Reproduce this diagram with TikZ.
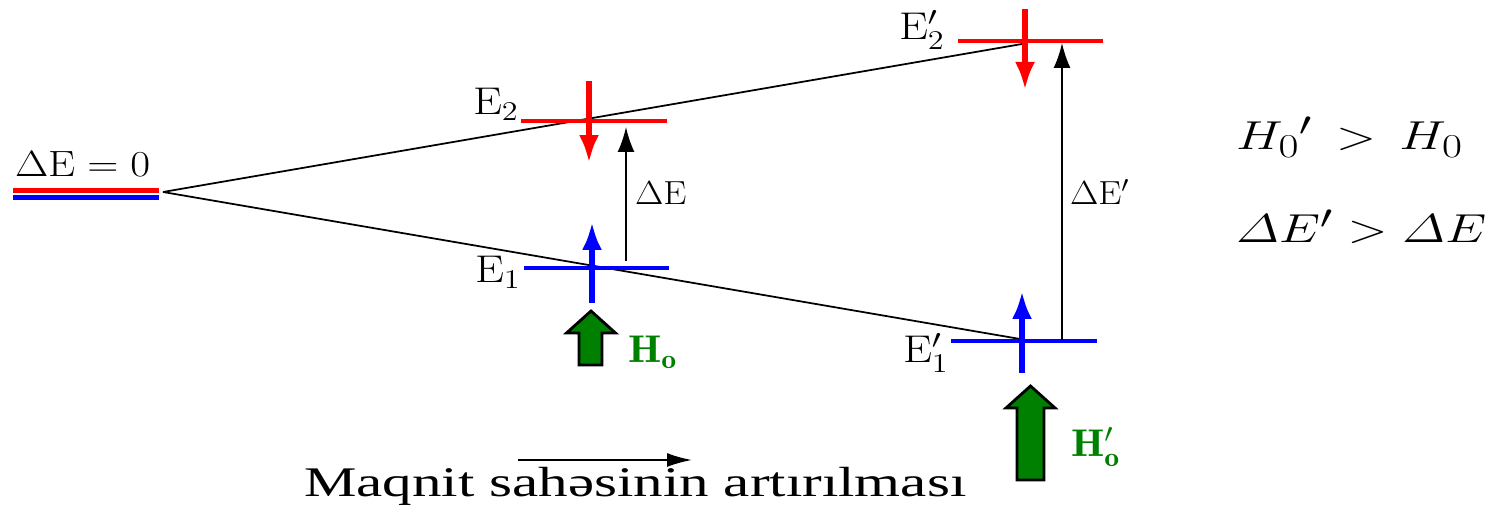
\RequirePackage{fix-cm}
\documentclass[tikz,border=0pt]{standalone}
\usepackage{fontspec}
\newfontfamily\timesfont{Liberation Serif}
\usetikzlibrary{arrows.meta}
\definecolor{hgreen}{RGB}{0,128,0}
\definecolor{lvred}{RGB}{255,0,0}
\definecolor{lvblue}{RGB}{0,0,255}
\DeclareMathSizes{23}{23}{19}{15}
\begin{document}
\begin{tikzpicture}[x=0.02cm,y=-0.02cm,
  lvl/.style={line width=0.085cm},
  spinup/.style={line width=0.11cm,-{Latex[length=0.56cm,width=0.40cm]}},
  gap/.style={line width=1.1pt,-{Latex[length=0.5cm,width=0.34cm]}},
  conn/.style={line width=1pt},
  garrow/.style={draw=black,fill=hgreen,line width=1.6pt,line join=miter},
  lab/.style={inner sep=0pt,outer sep=0pt,anchor=base west},
]
\useasboundingbox (0,0) rectangle (1497,509);

% level coordinates
\coordinate (O) at (163,192);
\coordinate (e2l) at (521,121); \coordinate (e2r) at (667,121);
\coordinate (e1l) at (524,268); \coordinate (e1r) at (669,268);
\coordinate (f2l) at (958,41);  \coordinate (f2r) at (1103,41);
\coordinate (f1l) at (951,341); \coordinate (f1r) at (1097,341);
\coordinate (upEnd) at (1022,44);
\coordinate (loEnd) at (1020,339);

% zero-field degenerate level
\coordinate (z1) at (13,190.5); \coordinate (z2) at (159,190.5);
\coordinate (z3) at (13,197.5); \coordinate (z4) at (159,197.5);
\draw[lvl,lvred] (z1) -- (z2);
\draw[lvl,lvblue] (z3) -- (z4);
\node[lab] (dz) at (15,177) {\fontsize{20.8}{24}\selectfont\scalebox{1.18}[1]{$\Delta\mathrm{E} = 0$}};

% splitting lines
\draw[conn] (O) -- (upEnd);
\draw[conn] (O) -- (loEnd);

% levels
\draw[lvl,lvred] (e2l) -- (e2r);
\draw[lvl,lvblue] (e1l) -- (e1r);
\draw[lvl,lvred] (f2l) -- (f2r);
\draw[lvl,lvblue] (f1l) -- (f1r);

% spins
\coordinate (s1a) at (589,81);   \coordinate (s1b) at (589,163);
\coordinate (s2a) at (592,303);  \coordinate (s2b) at (592,222);
\coordinate (s3a) at (1025,9);   \coordinate (s3b) at (1025,90);
\coordinate (s4a) at (1022,373); \coordinate (s4b) at (1022,291);
\draw[spinup,lvred] (s1a) -- (s1b);
\draw[spinup,lvblue] (s2a) -- (s2b);
\draw[spinup,lvred] (s3a) -- (s3b);
\draw[spinup,lvblue] (s4a) -- (s4b);

% energy gaps
\coordinate (g1a) at (626,261); \coordinate (g1b) at (626,127);
\coordinate (g2a) at (1062,340); \coordinate (g2b) at (1062,43);
\draw[gap] (g1a) -- (g1b);
\draw[gap] (g2a) -- (g2b);

% labels
\node[lab] (le2) at (473,115) {\fontsize{22}{26}\selectfont\scalebox{1.19}[1]{$\mathrm{E}_2$}};
\node[lab] (le1) at (475,283) {\fontsize{22}{26}\selectfont\scalebox{1.19}[1]{$\mathrm{E}_1$}};
\node[lab] (lf2) at (899,40) {\fontsize{22}{26}\selectfont\scalebox{1.19}[1]{$\mathrm{E}'_2$}};
\node[lab] (lf1) at (903,363) {\fontsize{22}{26}\selectfont\scalebox{1.19}[1]{$\mathrm{E}'_1$}};
\node[lab] (lg1) at (635,205) {\fontsize{19}{23}\selectfont\scalebox{1.1}[1]{$\Delta\mathrm{E}$}};
\node[lab] (lg2) at (1070,205) {\fontsize{19}{23}\selectfont\scalebox{1.1}[1]{$\Delta\mathrm{E}'$}};

% field arrows
\draw[garrow] (591,311) -- (615.5,333) -- (602,333) -- (602,365) -- (579,365) -- (579,333) -- (566.5,333) -- cycle;
\draw[garrow] (1030.5,386) -- (1055,408) -- (1044,408) -- (1044,480) -- (1017,480) -- (1017,408) -- (1006,408) -- cycle;
\node[lab,text=hgreen] (h1) at (628,363) {\fontsize{22}{26}\selectfont\scalebox{1.1}[1]{$\mathbf{H}_{\mathbf{o}}$}};
\node[lab,text=hgreen] (h2) at (1071,457) {\fontsize{22}{26}\selectfont\scalebox{1.1}[1]{$\mathbf{H}'_{\mathbf{o}}$}};

% right formulas
\node[lab] (r1) at (1236,150) {\fontsize{23}{27}\selectfont\scalebox{1.3}[1]{$H_0{}'\,>\,H_0$}};
\node[lab] (r2) at (1236,243) {\fontsize{23}{27}\selectfont\scalebox{1.3}[1]{$\mathnormal{\Delta} E' > \mathnormal{\Delta} E$}};

% bottom caption
\node[lab] (cap) at (304,497) {\timesfont\fontsize{24}{28}\selectfont\scalebox{1.40}[1]{Maqnit sahəsinin artırılması}};
\coordinate (ca) at (518,460); \coordinate (cb) at (692,460);
\draw[line width=1.1pt,-{Latex[length=0.5cm,width=0.28cm]}] (ca) -- (cb);
\end{tikzpicture}
\end{document}
